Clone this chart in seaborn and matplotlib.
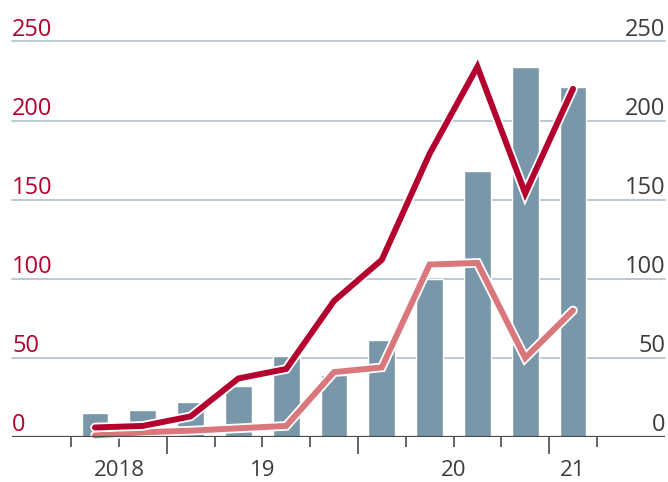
import numpy as np
import pandas as pd
import matplotlib
matplotlib.use('Agg')
import matplotlib.pyplot as plt
import matplotlib.patheffects as pe
import seaborn as sns

# --- data (quarterly, 2018 Q3 to 2021 Q1) ---
quarters = ['2018Q3', '2018Q4', '2019Q1', '2019Q2', '2019Q3', '2019Q4',
            '2020Q1', '2020Q2', '2020Q3', '2020Q4', '2021Q1']
bar_values = [15, 17, 22, 32, 51, 39, 61, 100, 168, 234, 221]
dark_line = [6, 7, 13, 37, 43, 86, 112, 179, 234, 154, 220]
light_line = [1, 3, 4, 5.5, 7, 41, 44, 109, 110, 50, 80]

y_ticks = [0, 50, 100, 150, 200, 250]
year_labels = ['2018', '19', '20', '21']
year_label_pos = [0.5, 3.5, 7.5, 10]
year_breaks = [1.5, 5.5, 9.5]

df = pd.DataFrame({'quarter': quarters, 'pos': np.arange(len(quarters)),
                   'bars': bar_values, 'dark': dark_line, 'light': light_line})

# colours
BAR = '#7a97aa'
DARK = '#b4002e'
LIGHT = '#d9777c'
GRID = '#b4c5d0'
AXIS = '#4a4a4a'

sns.set_theme(style='white')
plt.rcParams['font.family'] = ['Open Sans', 'DejaVu Sans']

fig = plt.figure(figsize=(6.68, 4.82), dpi=100)
ax = fig.add_axes([12 / 668, 45 / 482, 653 / 668, (437 - 41.4) / 482])

# --- bars ---
sns.barplot(data=df, x='pos', y='bars', native_scale=True, color=BAR,
            saturation=1, width=0.56, ax=ax, zorder=2)

# --- lines with white casing ---
sns.lineplot(data=df, x='pos', y='light', color=LIGHT, lw=4.3, ax=ax, zorder=3,
             path_effects=[pe.Stroke(linewidth=6.9, foreground='white'), pe.Normal()])
sns.lineplot(data=df, x='pos', y='dark', color=DARK, lw=4.3, ax=ax, zorder=4,
             path_effects=[pe.Stroke(linewidth=6.9, foreground='white'), pe.Normal()])
for l in ax.lines:
    l.set_clip_on(False)
    l.set_solid_joinstyle('miter')

ax.set_xlim((12 - 95) / 47.8, (665 - 95) / 47.8)
ax.set_ylim(0, 250)

# gridlines and baseline
for v in y_ticks[1:]:
    ax.axhline(v, color=GRID, lw=1.3, zorder=1, clip_on=False)
ax.axhline(0, color=AXIS, lw=1.6, zorder=5)

for s in ax.spines.values():
    s.set_visible(False)
ax.set_xlabel('')
ax.set_ylabel('')
ax.set_yticks([])

# x ticks between quarters, longer ones at year breaks
ax.set_xticks(year_breaks)
ax.set_xticks([p for p in np.arange(-0.5, 11, 1) if p not in year_breaks], minor=True)
ax.set_xticklabels([])
ax.tick_params(axis='x', which='major', bottom=True, direction='out', length=12,
               width=1.2, color=AXIS)
ax.tick_params(axis='x', which='minor', bottom=True, direction='out', length=7,
               width=1.2, color=AXIS)

trans = ax.get_xaxis_transform()
for lab, p in zip(year_labels, year_label_pos):
    ax.text(p, -0.098, lab, transform=trans, ha='center', va='baseline',
            fontsize=16, color='#3c3c3c')

# y labels sitting on the gridlines, left red / right grey
x0, x1 = ax.get_xlim()
for v in y_ticks:
    ax.text(x0, v + 3.6, str(v), ha='left', va='baseline', fontsize=17, color=DARK)
    ax.text(x1, v + 3.6, str(v), ha='right', va='baseline', fontsize=17, color='#3c3c3c')

fig.savefig('out.png', dpi=100)
